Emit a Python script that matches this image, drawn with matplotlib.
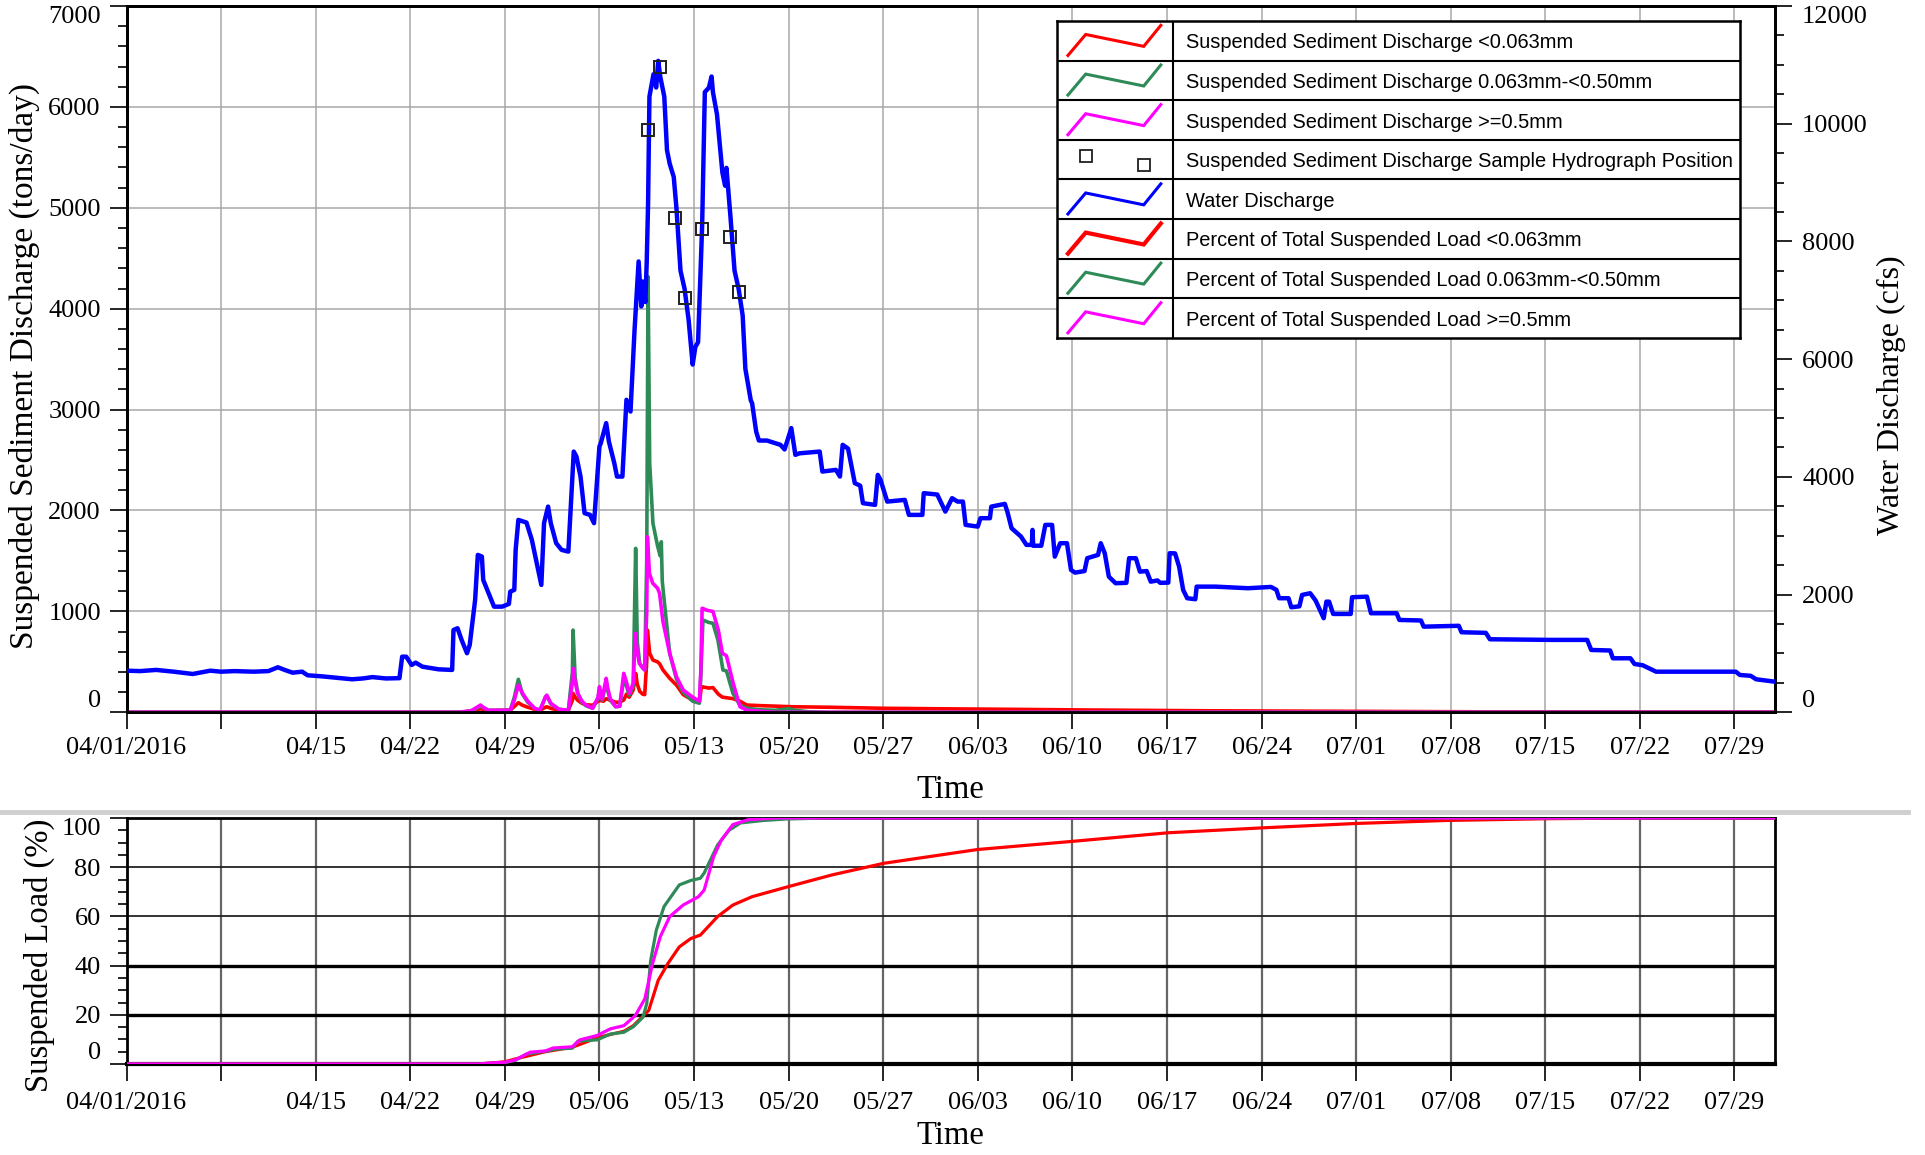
import numpy as np
import pandas as pd
import matplotlib
matplotlib.use("Agg")
import matplotlib.pyplot as plt
from matplotlib.lines import Line2D
from matplotlib import font_manager as fm

# ---------------- data (days since 2016-04-01) ----------------
START = pd.Timestamp("2016-04-01")

tick_days = [0, 7, 14, 21, 28, 35, 42, 49, 56, 63, 70, 77, 84, 91, 98, 105, 112, 119]
tick_labels = ["04/01/2016", "", "04/15", "04/22", "04/29", "05/06", "05/13", "05/20",
               "05/27", "06/03", "06/10", "06/17", "06/24", "07/01", "07/08", "07/15",
               "07/22", "07/29"]

water_days = [0.0, 1.0, 2.2, 3.5, 4.9, 6.2, 7.0, 8.0, 9.4, 10.5, 11.2, 11.7, 12.3, 13.0, 13.4,
              14.5, 15.5, 16.7, 17.5, 18.2, 19.2, 20.2, 20.4, 20.7, 21.1, 21.4, 21.9, 23.1, 24.1,
              24.2, 24.5, 24.8, 25.2, 25.4, 25.8, 26.0, 26.3, 26.4, 26.8, 27.2, 27.8, 28.3, 28.4,
              28.7, 28.8, 29.0, 29.6, 30.0, 30.7, 30.9, 31.2, 31.4, 31.8, 32.2, 32.7, 33.1, 33.3,
              33.6, 33.9, 34.3, 34.6, 35.0, 35.1, 35.5, 35.7, 36.1, 36.3, 36.7, 37.0, 37.3, 37.6,
              37.9, 38.1, 38.2, 38.4, 38.5, 38.6, 38.7, 39.0, 39.2, 39.35, 39.5, 39.8, 40.0, 40.2,
              40.5, 40.7, 41.0, 41.3, 41.6, 41.9, 42.1, 42.3, 42.6, 42.8, 43.1, 43.3, 43.4, 43.7,
              44.1, 44.3, 44.4, 44.7, 45.0, 45.3, 45.6, 45.8, 46.2, 46.3, 46.6, 46.8, 47.4, 48.4,
              48.7, 49.2, 49.5, 49.8, 51.3, 51.5, 52.5, 52.8, 53.0, 53.4, 53.9, 54.3, 54.5, 55.4,
              55.6, 55.8, 56.3, 57.6, 57.9, 58.9, 59.0, 60.0, 60.3, 60.6, 61.1, 61.5, 61.9, 62.1,
              63.0, 63.2, 63.9, 64.0, 65.0, 65.2, 65.5, 66.2, 66.6, 67.0, 67.05, 67.1, 67.7, 68.0,
              68.5, 68.7, 69.1, 69.6, 69.9, 70.2, 70.9, 71.1, 71.9, 72.1, 72.4, 72.7, 73.2, 74.0,
              74.2, 74.7, 75.0, 75.5, 75.8, 76.3, 76.5, 77.1, 77.2, 77.6, 77.9, 78.2, 78.5, 79.1,
              79.2, 80.6, 83.0, 84.7, 85.1, 85.3, 86.0, 86.2, 86.8, 87.0, 87.6, 88.0, 88.6, 88.8,
              89.0, 89.3, 90.6, 90.7, 91.8, 92.1, 94.0, 94.2, 95.8, 96.0, 98.6, 98.8, 100.6,
              100.9, 105.5, 108.1, 108.4, 109.8, 110.0, 111.3, 111.6, 112.2, 113.2, 119.1, 119.4,
              120.2, 120.6, 122.0]
water_cfs = [707, 700, 720, 690, 651, 707, 690, 700, 690, 700, 765, 720, 673, 690, 629,
             610, 588, 561, 575, 598, 575, 580, 945, 945, 804, 844, 775, 730, 720,
             1399, 1428, 1229, 1003, 1144, 1909, 2674, 2646, 2249, 2023, 1795, 1795, 1841, 2051,
             2080, 2759, 3269, 3224, 2929, 2164, 3213, 3495, 3213, 2873, 2759, 2730, 4430, 4345,
             4005, 3383, 3355, 3213, 4515, 4572, 4913, 4600, 4233, 4005, 4005, 5309, 5110, 6499,
             7660, 6895, 7320, 6970, 7655, 8640, 10460, 10840, 10615, 11068, 10800, 10460, 9550, 9321,
             9095, 8563, 7502, 7196, 6669, 5908, 6210, 6287, 8260, 10537, 10613, 10802, 10537, 10158,
             9170, 8947, 9250, 8412, 7502, 7196, 6742, 5836, 5301, 5250, 4769, 4617, 4617, 4544,
             4466, 4828, 4374, 4400, 4430, 4090, 4119, 4005, 4544, 4480, 3893, 3850, 3553, 3524,
             4034, 3950, 3580, 3609, 3354, 3354, 3723, 3700, 3553, 3410, 3638, 3580, 3580, 3184,
             3155, 3298, 3298, 3495, 3541, 3400, 3128, 2985, 2844, 2844, 3099, 2830, 2830, 3184,
             3184, 2645, 2873, 2873, 2419, 2373, 2400, 2618, 2674, 2873, 2700, 2305, 2193, 2200,
             2618, 2618, 2390, 2400, 2220, 2240, 2200, 2203, 2703, 2700, 2475, 2079, 1938, 1921,
             2135, 2135, 2108, 2130, 2080, 1938, 1938, 1785, 1800, 1994, 2023, 1900, 1598, 1880,
             1880, 1671, 1671, 1955, 1965, 1683, 1683, 1569, 1560, 1455, 1470, 1360, 1350,
             1241, 1230, 1230, 1059, 1050, 918, 918, 821, 800, 690, 690, 634,
             620, 561, 520]

sample_days = [38.57, 39.5, 40.57, 41.31, 42.57, 44.67, 45.3]
sample_cfs = [9899, 10962, 8395, 7043, 8206, 8080, 7145]

fines_days = [0, 24.5, 25.5, 26.2, 26.8, 28.4, 28.8, 29.0, 29.3, 29.7, 30.2, 30.6, 31.0, 31.1,
              31.5, 32.0, 32.7, 33.0, 33.05, 33.2, 33.4, 33.7, 34.0, 34.5, 34.9, 35.0, 35.3,
              35.5, 35.8, 36.2, 36.5, 36.8, 37.0, 37.2, 37.5, 37.68, 37.8, 37.98, 38.2, 38.35,
              38.5, 38.55, 38.72, 38.96, 39.3, 39.46, 39.7, 40.2, 40.7, 41.2, 41.9, 42.4, 42.55,
              43.1, 43.4, 43.8, 44.1, 44.9, 45.4, 45.9, 46.9, 49.3, 52, 56, 60, 65, 71, 80, 90,
              100, 110, 122]
fines_tons = [0, 0, 10, 35, 15, 20, 70, 95, 70, 50, 30, 20, 50, 55,
              35, 25, 20, 120, 188, 150, 118, 90, 75, 70, 110, 118, 110,
              135, 120, 100, 100, 122, 180, 150, 221, 386, 280, 208, 180, 175,
              500, 815, 585, 518, 500, 480, 420, 337, 270, 175, 120, 110, 254,
              240, 245, 180, 150, 135, 110, 72, 66, 55, 50, 40, 35, 30, 23, 15, 10,
              5, 3, 2]

sand_days = [0, 24.5, 25.5, 26.2, 26.8, 28.4, 28.7, 29.0, 29.3, 29.7, 30.2, 30.6, 31.0, 31.1,
             31.4, 32.0, 32.7, 33.0, 33.05, 33.2, 33.4, 33.7, 34.0, 34.5, 34.9, 35.0, 35.2,
             35.5, 35.6, 35.8, 36.2, 36.5, 36.8, 37.0, 37.2, 37.5, 37.68, 37.8, 37.98, 38.2,
             38.35, 38.5, 38.6, 38.72, 38.96, 39.3, 39.5, 39.58, 39.65, 39.8, 40.2, 40.7, 41.2,
             41.9, 42.4, 42.5, 42.66, 43.1, 43.4, 43.77, 44.14, 44.4, 44.88, 45.4, 45.9, 46.9,
             48.0, 49.0, 49.5, 50.5, 52, 122]
sand_tons = [0, 0, 10, 60, 20, 20, 150, 327, 180, 100, 40, 20, 150, 165,
             85, 30, 20, 400, 815, 350, 185, 100, 65, 40, 140, 230, 120,
             300, 220, 120, 55, 60, 330, 260, 170, 260, 1625, 700, 486, 440,
             420, 1500, 4317, 2467, 1873, 1650, 1550, 1690, 1300, 1100, 585, 330, 200,
             110, 90, 350, 915, 890, 883, 716, 419, 410, 188, 70, 40, 25,
             20, 35, 20, 5, 0, 0]

coarse_days = [0, 24.5, 25.5, 26.0, 26.2, 26.5, 26.8, 28.4, 28.7, 29.0, 29.3, 29.7, 30.2, 30.6,
               31.0, 31.1, 31.4, 32.0, 32.7, 33.0, 33.05, 33.2, 33.4, 33.7, 34.0, 34.5, 34.9,
               35.0, 35.2, 35.5, 35.6, 35.8, 36.2, 36.5, 36.8, 37.0, 37.2, 37.5, 37.65, 37.8,
               37.95, 38.2, 38.35, 38.5, 38.55, 38.7, 38.95, 39.3, 39.45, 39.7, 40.2, 40.7,
               41.2, 41.9, 42.4, 42.5, 42.6, 43.0, 43.4, 43.8, 44.1, 44.4, 44.9, 45.4, 45.9,
               46.9, 48, 122]
coarse_tons = [0, 0, 15, 55, 72, 40, 20, 20, 120, 270, 190, 110, 40, 20,
               150, 170, 90, 30, 20, 300, 436, 300, 188, 110, 72, 40, 150,
               254, 130, 337, 250, 135, 56, 60, 386, 300, 188, 287, 783, 600,
               486, 440, 419, 1000, 1740, 1377, 1278, 1230, 1179, 900, 585, 353,
               221, 150, 110, 400, 1031, 1010, 1000, 815, 585, 560, 287, 56, 20,
               10, 0, 0]

pct_fines_days = [0, 26.0, 27.0, 28.0, 28.74, 31.0, 32.99, 34.97, 36.81, 37.52, 38.65, 39.35,
                  40.06, 40.91, 41.76, 42.47, 43.74, 44.87, 46.29, 48.98, 52.24, 56.06, 63.0,
                  70.0, 77.1, 84.1, 91.1, 97.7, 105.0, 112.0, 122.0]
pct_fines = [0, 0, 0.4, 0.9, 2, 5, 6.8, 10.9, 13.3, 15.6, 21.8, 34,
             40.8, 47.6, 51, 52.4, 59.9, 64.6, 68, 72.1, 76.9, 81.6, 87.2,
             90.5, 94.0, 96.0, 97.8, 99.0, 99.7, 100, 100]

pct_sand_days = [0, 26.0, 27.0, 28.0, 28.74, 29.59, 31.0, 31.85, 32.99, 33.41, 34.83, 35.82,
                 36.81, 37.52, 38.22, 38.5, 38.79, 39.21, 39.78, 40.91, 41.76, 42.47, 42.75,
                 43.74, 44.59, 45.44, 47.14, 48.84, 52.0, 122.0]
pct_sand = [0, 0, 0.3, 0.6, 1.4, 4, 5.2, 6.1, 6.4, 9.3, 9.8, 12.2,
            12.9, 15.2, 19, 24.5, 42, 54.4, 64, 72.8, 74.6, 75.5, 77.6,
            89, 95, 98, 99, 99.6, 100, 100]

pct_coarse_days = [0, 26.0, 27.0, 28.0, 28.74, 29.87, 31.0, 31.57, 32.99, 33.55, 34.83, 35.82,
                   36.81, 37.66, 38.36, 38.93, 39.5, 40.2, 41.19, 42.33, 42.75, 43.46, 44.02,
                   44.87, 46.0, 48.0, 122.0]
pct_coarse = [0, 0, 0.4, 0.7, 1.6, 4.8, 5.3, 6.5, 7, 9.8, 11.6, 14.3,
              15.6, 19.7, 26.5, 40.8, 51.7, 59.9, 64.6, 68, 70.7, 84.4, 91,
              97.3, 99.3, 100, 100]

legend_labels = ["Suspended Sediment Discharge <0.063mm",
                 "Suspended Sediment Discharge 0.063mm-<0.50mm",
                 "Suspended Sediment Discharge >=0.5mm",
                 "Suspended Sediment Discharge Sample Hydrograph Position",
                 "Water Discharge",
                 "Percent of Total Suspended Load <0.063mm",
                 "Percent of Total Suspended Load 0.063mm-<0.50mm",
                 "Percent of Total Suspended Load >=0.5mm"]

# ---------------- style ----------------
RED, GREEN, MAG, BLUE = "#ff0000", "#2e8b57", "#ff00ff", "#0000ff"
SERIF = ["Liberation Serif", "DejaVu Serif"]
plt.rcParams["font.family"] = SERIF
TICK_FS = 19


def to_dt(d):
    return START + pd.to_timedelta(np.asarray(d, dtype=float), unit="D")


W, H = 1925, 1155
fig = plt.figure(figsize=(W / 100, H / 100), dpi=100)

def fx(px):
    return px / W

def fy(px):
    return 1 - px / H

L, R = 126.5, 1775
AW = R - L
ax = fig.add_axes([fx(L), fy(712.3), fx(AW), fy(6) - fy(712.3)])
ax2 = ax.twinx()
axb = fig.add_axes([fx(L), fy(1064), fx(AW), fy(818) - fy(1064)])

xlim = (to_dt([0])[0], to_dt([122])[0])

def style_xaxis(a, pad):
    a.set_xlim(*xlim)
    a.set_xticks(to_dt(tick_days))
    a.set_xticklabels(tick_labels)
    a.tick_params(axis="x", direction="out", length=12.5, width=1.2, pad=pad,
                  labelsize=TICK_FS)
    a.set_xlabel("Time", fontsize=23.5)

# ---------------- top panel ----------------
ax.plot(to_dt(fines_days), fines_tons, color=RED, lw=2.6, zorder=3)
ax.plot(to_dt(sand_days), sand_tons, color=GREEN, lw=2.6, zorder=3)
ax.plot(to_dt(coarse_days), coarse_tons, color=MAG, lw=2.6, zorder=3)
ax.set_ylim(0, 7000)
ax.set_yticks(np.arange(0, 7001, 1000))
ax.set_yticks(np.arange(0, 7001, 200), minor=True)
ax.tick_params(axis="y", which="major", direction="out", length=12.5, width=1.2, pad=6,
               labelsize=TICK_FS)
ax.tick_params(axis="y", which="minor", direction="out", length=6.5, width=1.2)
ax.grid(True, which="major", axis="both", color="#a8a8a8", lw=1.1)
ax.set_axisbelow(True)
style_xaxis(ax, 5)
ax.set_ylabel("Suspended Sediment Discharge (tons/day)", fontsize=24)
ax.yaxis.set_label_coords((40 - L) / AW, 0.49)
ax.xaxis.set_label_coords(0.5, -(775 - 712.3) / (712.3 - 6))

ax2.plot(to_dt(water_days), water_cfs, color=BLUE, lw=3.2, zorder=4)
ax2.plot(to_dt(sample_days), sample_cfs, ls="none", marker="s", ms=9, mfc="none",
         mec="#202020", mew=1.4, zorder=5)
ax2.set_ylim(0, 12000)
ax2.set_yticks(np.arange(0, 12001, 2000))
ax2.set_yticks(np.arange(0, 12001, 500), minor=True)
ax2.tick_params(axis="y", which="major", direction="out", length=12.5, width=1.2, pad=7,
                labelsize=TICK_FS)
ax2.tick_params(axis="y", which="minor", direction="out", length=6.5, width=1.2)
ax2.set_ylabel("Water Discharge (cfs)", fontsize=23)
ax2.yaxis.set_label_coords((1877 - L) / AW, 0.449)
ax2.set_zorder(ax.get_zorder() + 1)
ax2.patch.set_visible(False)

for a in (ax, ax2):
    for s in a.spines.values():
        s.set_linewidth(2)

# edge tick labels shifted inward
def shift_edges(a, which="left"):
    ticks = a.yaxis.get_major_ticks()
    lab = (lambda t: t.label1) if which == "left" else (lambda t: t.label2)
    lab(ticks[0]).set_va("bottom")
    lab(ticks[-1]).set_va("top")

shift_edges(ax, "left")
shift_edges(ax2, "right")

# ---------------- bottom panel ----------------
axb.plot(to_dt(pct_fines_days), pct_fines, color=RED, lw=2.3, zorder=3)
axb.plot(to_dt(pct_sand_days), pct_sand, color=GREEN, lw=2.3, zorder=3)
axb.plot(to_dt(pct_coarse_days), pct_coarse, color=MAG, lw=2.3, zorder=3)
axb.set_ylim(0, 100)
axb.set_yticks(np.arange(0, 101, 20))
axb.set_yticks(np.arange(0, 101, 5), minor=True)
axb.tick_params(axis="y", which="major", direction="out", length=12.5, width=1.2, pad=6,
                labelsize=TICK_FS)
axb.tick_params(axis="y", which="minor", direction="out", length=6.5, width=1.2)
axb.grid(True, which="major", axis="x", color="#666666", lw=1.6)
for lvl, lw, col in [(20, 2.4, "black"), (40, 2.4, "black"), (60, 1.3, "#222222"),
                     (80, 1.3, "#222222")]:
    axb.axhline(lvl, color=col, lw=lw, zorder=1)
axb.set_axisbelow(True)
style_xaxis(axb, 8)
axb.set_ylabel("Suspended Load (%)", fontsize=23.5)
axb.yaxis.set_label_coords((55 - L) / AW, 0.443)
axb.xaxis.set_label_coords(0.5, -(1121 - 1064) / (1064 - 818))
for s in axb.spines.values():
    s.set_linewidth(2)
axb.spines["bottom"].set_linewidth(3)
shift_edges(axb, "left")

# separator line between panels
fig.add_artist(Line2D([0, fx(1908)], [fy(812), fy(812)], color="#cfcfcf", lw=3.5))

# ---------------- legend table ----------------
names = {f.name for f in fm.fontManager.ttflist}
LEG_FONT = ["Liberation Sans Narrow"] if "Liberation Sans Narrow" in names else ["Liberation Sans"]
lx0, lx1, ly0, ly1 = 1057, 1740, 21, 338
lax = fig.add_axes([fx(lx0), fy(ly1), fx(lx1 - lx0), fy(ly0) - fy(ly1)])
lax.set_xlim(0, 1)
lax.set_ylim(8, 0)
lax.set_xticks([])
lax.set_yticks([])
lax.set_facecolor("white")
for s in lax.spines.values():
    s.set_linewidth(1.8)
for i in range(1, 8):
    lax.axhline(i, color="black", lw=1.5)
colx = (1172.8 - lx0) / (lx1 - lx0)
lax.axvline(colx, color="black", lw=1.5)

zig_x = [0.016, 0.042, 0.127, 0.152]
zig_y = [0.87, 0.34, 0.64, 0.11]
row_colors = [RED, GREEN, MAG, None, BLUE, RED, GREEN, MAG]
row_lw = [2.2, 2.2, 2.2, 0, 2.2, 3.0, 2.2, 2.2]
for i, (c, lw) in enumerate(zip(row_colors, row_lw)):
    if c is None:
        lax.plot([0.043, 0.127], [i + 0.40, i + 0.64], ls="none", marker="s", ms=8,
                 mfc="none", mec="#202020", mew=1.3)
    else:
        lax.plot(zig_x, [i + v for v in zig_y], color=c, lw=lw, solid_joinstyle="miter")

text_x = (1186.2 - lx0) / (lx1 - lx0)
texts = [lax.text(text_x, i + 0.55, lab, fontsize=20, family=LEG_FONT, va="center",
                  ha="left", color="black") for i, lab in enumerate(legend_labels)]
# fit the longest entry to the measured width in the reference (~545 px)
fig.canvas.draw()
r = fig.canvas.get_renderer()
wlong = texts[3].get_window_extent(r).width
fs = 20 * 545.0 / wlong
for t in texts:
    t.set_fontsize(fs)

fig.savefig("out.png", dpi=100)
